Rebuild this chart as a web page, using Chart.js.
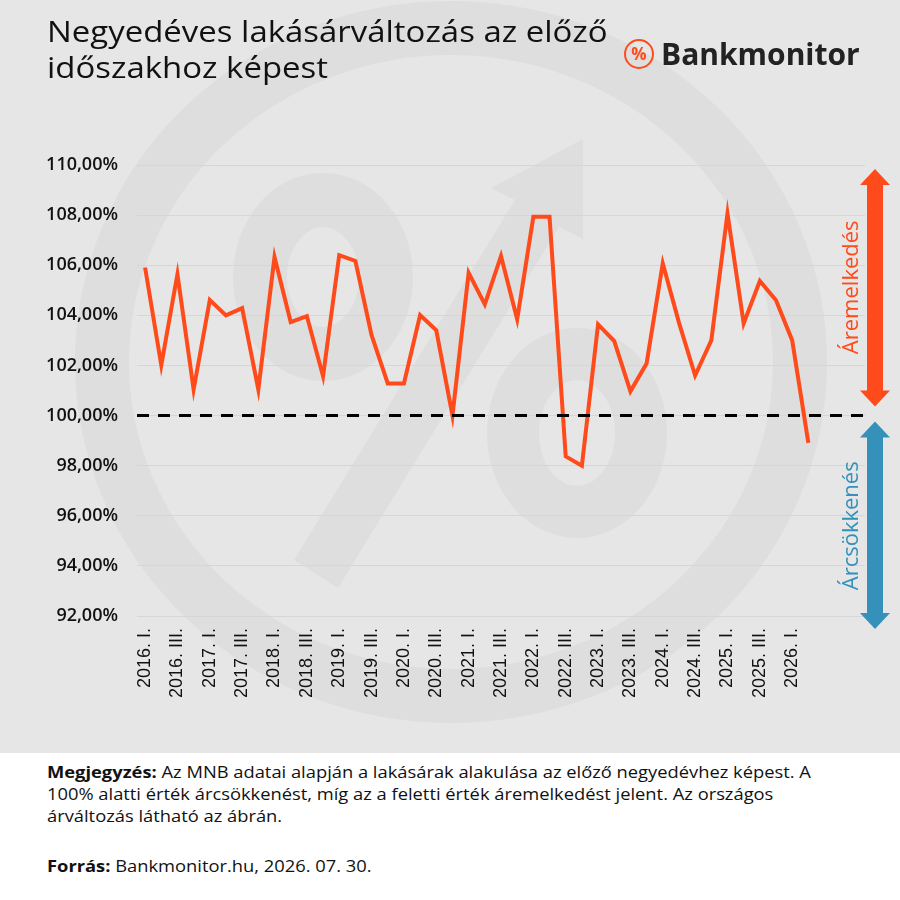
<!DOCTYPE html>
<html lang="hu">
<head>
<meta charset="utf-8">
<script src="https://cdn.jsdelivr.net/npm/chart.js@4.4.1/dist/chart.umd.min.js"></script>
<style>
  html, body { margin: 0; padding: 0; background: #fff; }
  #page { position: relative; width: 900px; height: 900px; overflow: hidden; font-family: 'Open Sans', sans-serif; color: #111; }
  #bg { position: absolute; left: 0; top: 0; width: 900px; height: 753px; background: #e6e6e6; }
  #wm { position: absolute; left: 0; top: 0; }
  #box { position: absolute; left: 0; top: 0; width: 900px; height: 753px; }
  #title { position: absolute; left: 47px; top: 13px; font-size: 29px; line-height: 36px; color: #111;
           transform: scaleX(1.136); transform-origin: left top; white-space: nowrap; }
  #logo { position: absolute; left: 624px; top: 37px; display: flex; align-items: center; }
  #logo .pc { width: 26px; height: 26px; border: 2.5px solid #ff4b1b; border-radius: 50%; color: #ff4b1b;
              font-size: 17px; font-weight: 700; line-height: 26px; text-align: center; }
  #logo .nm { margin-left: 7px; font-size: 30px; font-weight: 700; color: #222; line-height: 34px; }
  .foot { position: absolute; left: 47px; font-size: 16px; line-height: 22px; white-space: nowrap; color: #111;
          transform: scaleX(1.145); transform-origin: left top; }
  #note { top: 761px; }
  #src { top: 855px; }
  b { font-weight: 700; }
</style>
</head>
<body>
<div id="page">
  <div id="bg"></div>
  <svg id="wm" width="900" height="753">
    <g fill="none" stroke="#dedede">
      <ellipse cx="451" cy="362" rx="349" ry="334" stroke-width="54"/>
      <ellipse cx="323" cy="277" rx="63" ry="77" stroke-width="54"/>
      <ellipse cx="577" cy="433" rx="64" ry="79" stroke-width="52"/>
    </g>
    <polygon fill="#dedede" points="294,560 515,200 491,188 583,139 583,239 559,227 338,588"/>
  </svg>
  <div id="box"><canvas id="cHaz"></canvas></div>
  <div id="title">Negyedéves lakásárváltozás az előző<br>időszakhoz képest</div>
  <div id="logo"><div class="pc">%</div><div class="nm">Bankmonitor</div></div>
  <div id="note" class="foot"><b>Megjegyzés:</b> Az MNB adatai alapján a lakásárak alakulása az előző negyedévhez képest. A<br>100% alatti érték árcsökkenést, míg az a feletti érték áremelkedést jelent. Az országos<br>árváltozás látható az ábrán.</div>
  <div id="src" class="foot"><b>Forrás:</b> Bankmonitor.hu, 2026. 07. 30.</div>
</div>
<script>
// Negyedévek (adatos)
const quarters = [
  '2016. I.', '2016. II.', '2016. III.', '2016. IV.',
  '2017. I.', '2017. II.', '2017. III.', '2017. IV.',
  '2018. I.', '2018. II.', '2018. III.', '2018. IV.',
  '2019. I.', '2019. II.', '2019. III.', '2019. IV.',
  '2020. I.', '2020. II.', '2020. III.', '2020. IV.',
  '2021. I.', '2021. II.', '2021. III.', '2021. IV.',
  '2022. I.', '2022. II.', '2022. III.', '2022. IV.',
  '2023. I.', '2023. II.', '2023. III.', '2023. IV.',
  '2024. I.', '2024. II.', '2024. III.', '2024. IV.',
  '2025. I.', '2025. II.', '2025. III.', '2025. IV.',
  '2026. I.', '2026. II.'
];
// üres helyek a tengely végén (az eredeti ábrán is így van)
const emptyQuarters = ['2026. III.', '2026. IV.', '2027. I.'];

// Előző negyedévhez mért árindex, %
const priceChange = [
  105.91, 102.01, 105.64, 101.04, 104.61, 104.00, 104.29, 101.04,
  106.33, 103.73, 103.97, 101.57, 106.40, 106.17, 103.21, 101.28,
  101.28, 104.01, 103.40, 100.00, 105.70, 104.44, 106.37, 103.84,
  107.93, 107.93, 98.37, 98.00, 103.64, 102.97, 100.97, 102.08,
  106.07, 103.71, 101.60, 103.00, 108.07, 103.68, 105.37, 104.60,
  103.00, 98.91
];

const yMin = 92, yMax = 110, yStep = 2;
const baseLevel = 100;
const upLabel = 'Áremelkedés';
const downLabel = 'Árcsökkenés';

const ORANGE = '#ff4b1b';
const BLUE = '#3591b9';

const fmtPct = v => v.toFixed(2).replace('.', ',') + '%';

// szaggatott 100%-os vonal
const baseLinePlugin = {
  id: 'baseLine',
  afterDatasetsDraw(chart) {
    const { ctx, chartArea, scales } = chart;
    const y = scales.y.getPixelForValue(baseLevel);
    ctx.save();
    ctx.strokeStyle = '#000';
    ctx.lineWidth = 3;
    ctx.setLineDash([12, 9]);
    ctx.beginPath();
    ctx.moveTo(chartArea.left, y);
    ctx.lineTo(chartArea.right, y);
    ctx.stroke();
    ctx.restore();
  }
};

function drawArrow(ctx, x, yTop, yBot, color) {
  const sw = 8, hw = 15, hl = 16;
  ctx.fillStyle = color;
  ctx.beginPath();
  ctx.moveTo(x, yTop);
  ctx.lineTo(x + hw, yTop + hl);
  ctx.lineTo(x + sw, yTop + hl);
  ctx.lineTo(x + sw, yBot - hl);
  ctx.lineTo(x + hw, yBot - hl);
  ctx.lineTo(x, yBot);
  ctx.lineTo(x - hw, yBot - hl);
  ctx.lineTo(x - sw, yBot - hl);
  ctx.lineTo(x - sw, yTop + hl);
  ctx.lineTo(x - hw, yTop + hl);
  ctx.closePath();
  ctx.fill();
}

function drawVText(ctx, text, x, y, color) {
  ctx.save();
  ctx.translate(x, y);
  ctx.rotate(-Math.PI / 2);
  ctx.fillStyle = color;
  ctx.font = '22px "Open Sans"';
  ctx.textAlign = 'center';
  ctx.textBaseline = 'middle';
  ctx.fillText(text, 0, 0);
  ctx.restore();
}

// jobb oldali nyilak + feliratok
const sideArrowsPlugin = {
  id: 'sideArrows',
  afterDraw(chart) {
    const { ctx, chartArea, scales } = chart;
    const yb = scales.y.getPixelForValue(baseLevel);
    const x = chartArea.right + 10;
    ctx.save();
    drawArrow(ctx, x, scales.y.getPixelForValue(yMax) + 4, yb - 9, ORANGE);
    drawArrow(ctx, x, yb + 6, chartArea.bottom + 13, BLUE);
    drawVText(ctx, upLabel, x - 23, (scales.y.getPixelForValue(yMax) + yb) / 2 - 3, ORANGE);
    drawVText(ctx, downLabel, x - 23, (yb + chartArea.bottom) / 2 + 10, BLUE);
    ctx.restore();
  }
};

new Chart(document.getElementById('cHaz').getContext('2d'), {
  type: 'line',
  data: {
    labels: quarters.concat(emptyQuarters),
    datasets: [{
      label: 'Negyedéves változás',
      data: priceChange,
      borderColor: ORANGE,
      borderWidth: 4,
      tension: 0,
      pointRadius: 0,
      fill: false
    }]
  },
  options: {
    responsive: true, maintainAspectRatio: false,
    animation: false,
    layout: { padding: { top: 165, right: 35, bottom: 37, left: 0 } },
    plugins: { legend: { display: false }, tooltip: { enabled: false } },
    scales: {
      x: {
        offset: true,
        grid: { display: false, drawTicks: false },
        border: { display: false },
        afterFit: s => { s.height = 100; },
        ticks: {
          autoSkip: false, minRotation: 90, maxRotation: 90, padding: 12,
          color: '#111', font: { family: 'Liberation Sans', size: 18 },
          callback(v, i) {
            const lbl = this.getLabelForValue(v);
            return (i % 2 === 0 && quarters.includes(lbl)) ? lbl : null;
          }
        }
      },
      y: {
        min: yMin, max: yMax,
        grid: { color: '#d6d6d6', lineWidth: 1, drawTicks: false },
        border: { display: false },
        afterFit: s => { s.width = 137; },
        ticks: {
          stepSize: yStep, padding: 19,
          color: '#111', font: { family: 'Open Sans', size: 18, weight: '600' },
          callback: v => fmtPct(v)
        }
      }
    }
  },
  plugins: [baseLinePlugin, sideArrowsPlugin]
});
</script>
</body>
</html>
